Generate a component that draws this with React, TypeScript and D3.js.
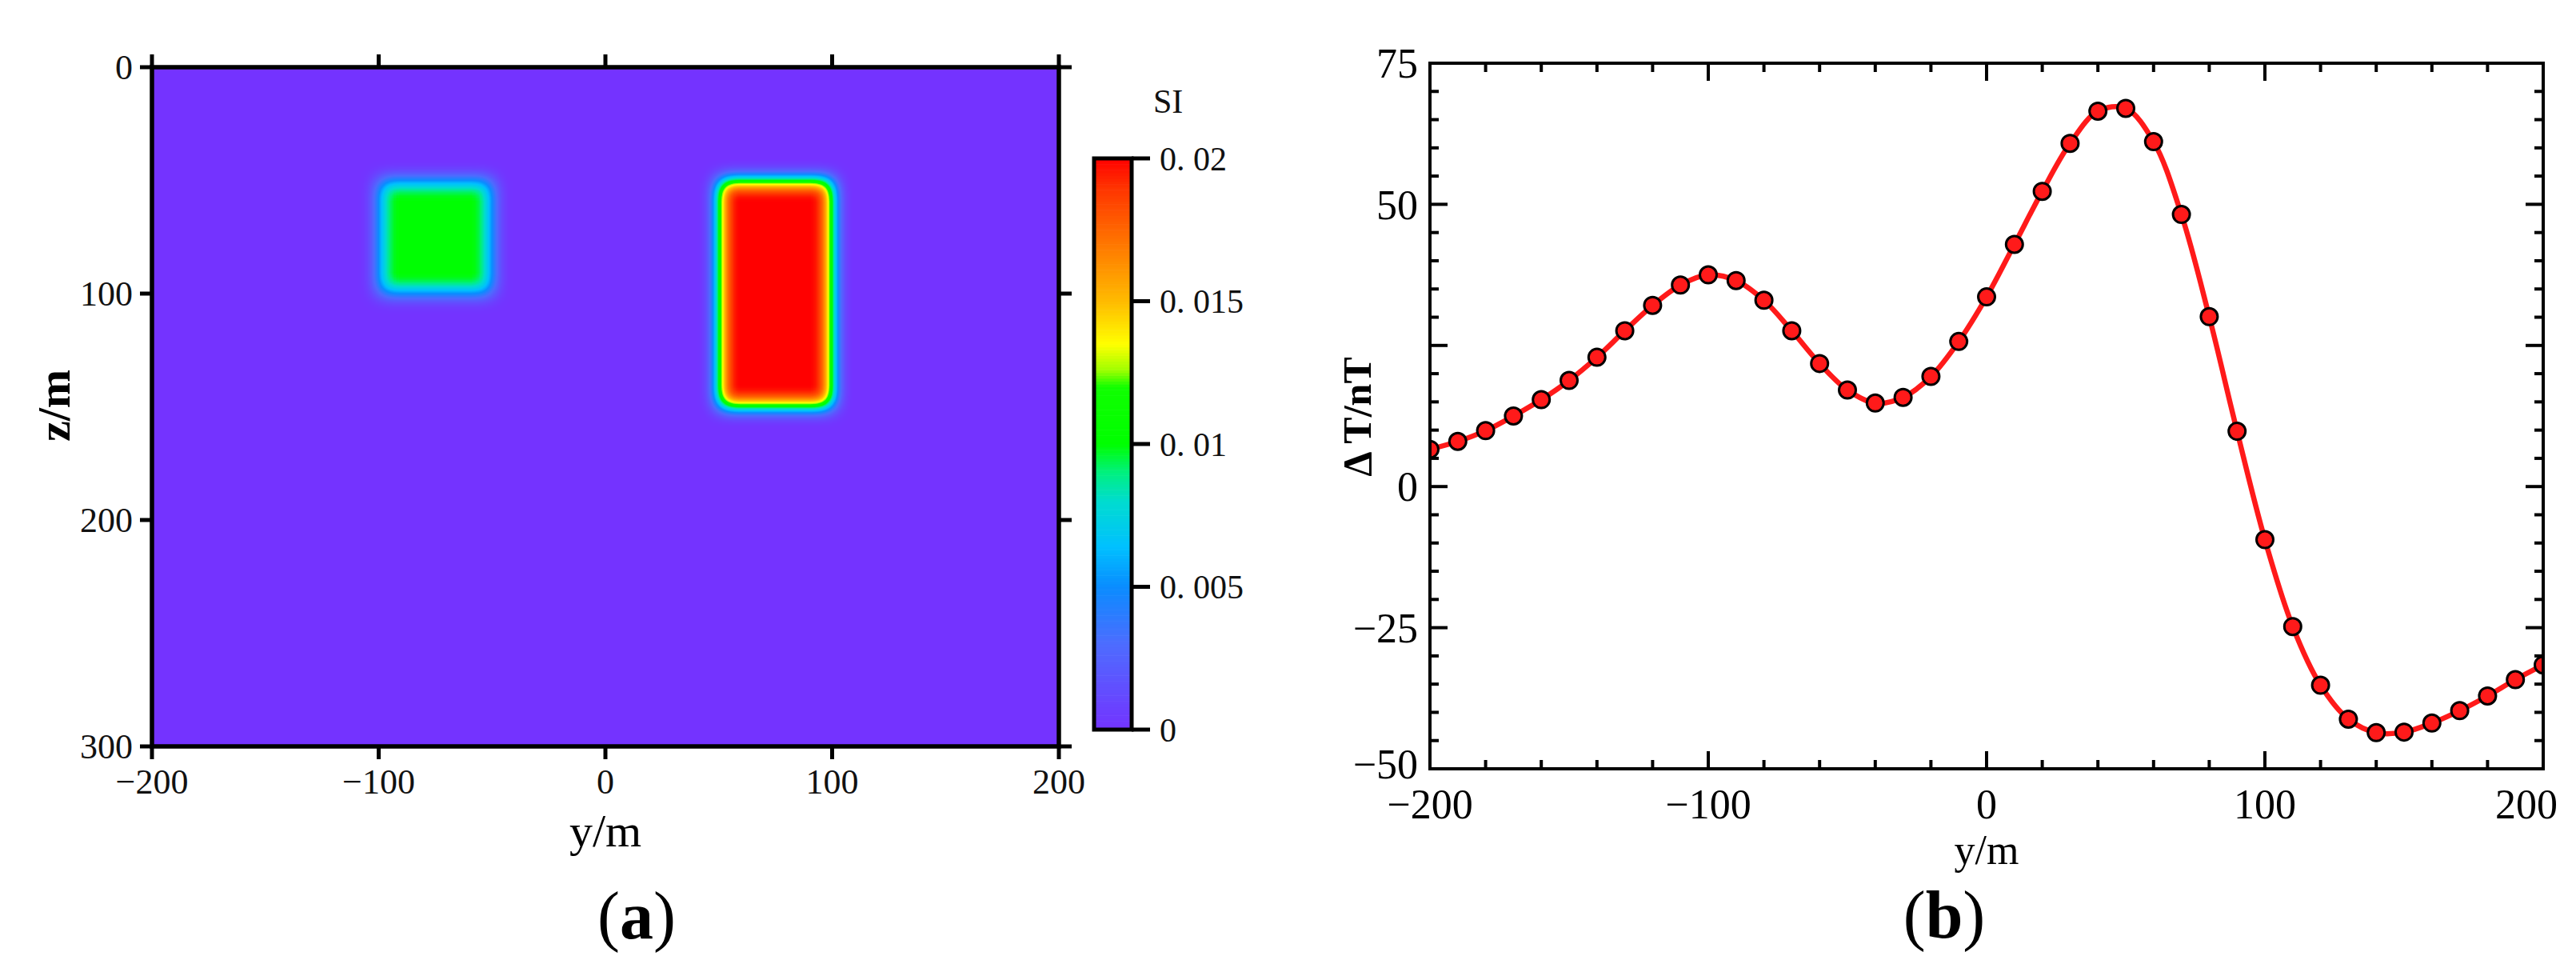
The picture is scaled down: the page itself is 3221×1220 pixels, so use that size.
import React from 'react';
import * as d3 from 'd3';

const W = 3221;
const H = 1220;
const FONT = "'Liberation Serif', 'Times New Roman', serif";

// ---------- Panel (a): susceptibility model ----------
const bodyY0 = [-100, 50];
const bodyY1 = [-50, 100];
const bodyZ0 = [50, 50];
const bodyZ1 = [100, 150];
const bodySI = [0.01, 0.02];
const aXTicks = [-200, -100, 0, 100, 200];
const aZTicks = [0, 100, 200, 300];
const cbTicks = [0, 0.005, 0.01, 0.015, 0.02];
const cbLabels = ['0', '0. 005', '0. 01', '0. 015', '0. 02'];

// colour map (fraction of max SI -> colour)
const cmapStops = [0, 0.15, 0.25, 0.32, 0.4, 0.45, 0.5, 0.6, 0.63, 0.675, 0.75, 0.85, 0.95, 1];
const cmapColors = ['#7433ff', '#4d6cff', '#0a8cff', '#00c0ff', '#00dcd0', '#00f080', '#00ff00', '#10ff00', '#a0ff00', '#ffff00', '#ffbb00', '#ff7700', '#ff3300', '#ff0000'];

// ---------- Panel (b): magnetic anomaly profile ----------
const profileY = [-200, -190, -180, -170, -160, -150, -140, -130, -120, -110, -100, -90, -80, -70, -60, -50, -40, -30, -20, -10, 0, 10, 20, 30, 40, 50, 60, 70, 80, 90, 100, 110, 120, 130, 140, 150, 160, 170, 180, 190, 200];
const deltaT = [6.6, 8.0, 9.9, 12.5, 15.4, 18.8, 22.9, 27.6, 32.1, 35.7, 37.5, 36.5, 33.0, 27.6, 21.8, 17.1, 14.8, 15.8, 19.5, 25.7, 33.6, 42.9, 52.3, 60.8, 66.5, 67.0, 61.1, 48.2, 30.1, 9.8, -9.4, -24.8, -35.2, -41.2, -43.6, -43.5, -41.9, -39.7, -37.1, -34.2, -31.6];
const bXMajor = [-200, -100, 0, 100, 200];
const bYMajor = [-50, -25, 0, 25, 50, 75];
const bYLabels = [75, 50, 0, -25, -50];

const fmt = (v: number) => (v < 0 ? '\u2212' + Math.abs(v) : String(v));

export default function App() {
  // scales panel a
  const xA = d3.scaleLinear().domain([-200, 200]).range([190, 1324]);
  const zA = d3.scaleLinear().domain([0, 300]).range([84, 933]);
  const cbY = d3.scaleLinear().domain([0, 0.02]).range([912, 198]);
  const color = d3
    .scaleLinear<string>()
    .domain(cmapStops.map((s) => s * 0.02))
    .range(cmapColors)
    .interpolate(d3.interpolateRgb)
    .clamp(true);

  const N = 128;
  const tr: number[] = [], tg: number[] = [], tb: number[] = [];
  for (let i = 0; i < N; i++) {
    const c = d3.rgb(color((i / (N - 1)) * 0.02));
    tr.push(c.r / 255);
    tg.push(c.g / 255);
    tb.push(c.b / 255);
  }
  const gray = d3.scaleLinear().domain([0, 0.02]).range([0, 255]);

  const [ax0, ax1] = xA.range();
  const [az0, az1] = zA.range();

  const bands = d3.range(0, 200).map((i) => {
    const v0 = (i / 200) * 0.02;
    const v1 = ((i + 1) / 200) * 0.02;
    return { v: (v0 + v1) / 2, y: cbY(v1), h: cbY(v0) - cbY(v1) + 0.6 };
  });

  // scales panel b
  const xB = d3.scaleLinear().domain([-200, 200]).range([1788, 3180]);
  const yB = d3.scaleLinear().domain([-50, 75]).range([961, 79]);
  const [bx0, bx1] = xB.range();
  const [by0, by1] = yB.range(); // by0 bottom, by1 top
  const pts: [number, number][] = profileY.map((y, i) => [y, deltaT[i]]);
  const line = d3
    .line<[number, number]>()
    .x((d) => xB(d[0]))
    .y((d) => yB(d[1]))
    .curve(d3.curveCatmullRom.alpha(0.5));
  const bXMinor = d3.range(-200, 201, 20).filter((v) => !bXMajor.includes(v));
  const bYMinor = d3.range(-50, 76, 5).filter((v) => !bYMajor.includes(v));

  return (
    <svg width={W} height={H} style={{ position: 'absolute', left: 0, top: 0, background: '#fff' }} fontFamily={FONT}>
      <defs>
        <clipPath id="clipA">
          <rect x={ax0} y={az0} width={ax1 - ax0} height={az1 - az0} />
        </clipPath>
        <clipPath id="clipB">
          <rect x={bx0} y={by1} width={bx1 - bx0} height={by0 - by1} />
        </clipPath>
        <filter
          id="cmap"
          filterUnits="userSpaceOnUse"
          x={ax0 - 60}
          y={az0 - 60}
          width={ax1 - ax0 + 120}
          height={az1 - az0 + 120}
          colorInterpolationFilters="sRGB"
        >
          <feGaussianBlur stdDeviation="11" />
          <feComponentTransfer>
            <feFuncR type="table" tableValues={tr.join(' ')} />
            <feFuncG type="table" tableValues={tg.join(' ')} />
            <feFuncB type="table" tableValues={tb.join(' ')} />
          </feComponentTransfer>
        </filter>
      </defs>

      {/* ===== Panel (a) ===== */}
      <g clipPath="url(#clipA)">
        <g filter="url(#cmap)">
          <rect x={ax0 - 50} y={az0 - 50} width={ax1 - ax0 + 100} height={az1 - az0 + 100} fill="#000" />
          {bodySI.map((k, i) => {
            const g = Math.round(gray(k));
            return (
              <rect
                key={i}
                x={xA(bodyY0[i])}
                y={zA(bodyZ0[i])}
                width={xA(bodyY1[i]) - xA(bodyY0[i])}
                height={zA(bodyZ1[i]) - zA(bodyZ0[i])}
                fill={`rgb(${g},${g},${g})`}
              />
            );
          })}
        </g>
      </g>
      <rect x={ax0} y={az0} width={ax1 - ax0} height={az1 - az0} fill="none" stroke="#000" strokeWidth={5.5} />
      {aXTicks.map((v) => (
        <g key={'ax' + v} stroke="#000" strokeWidth={5}>
          <line x1={xA(v)} x2={xA(v)} y1={az0} y2={az0 - 16} />
          <line x1={xA(v)} x2={xA(v)} y1={az1} y2={az1 + 16} />
        </g>
      ))}
      {aZTicks.map((v) => (
        <g key={'az' + v} stroke="#000" strokeWidth={5}>
          <line x1={ax0} x2={ax0 - 15} y1={zA(v)} y2={zA(v)} />
          <line x1={ax1} x2={ax1 + 16} y1={zA(v)} y2={zA(v)} />
        </g>
      ))}
      {aXTicks.map((v) => (
        <text key={'axl' + v} x={xA(v)} y={992} fontSize={44} textAnchor="middle" fill="#111">
          {fmt(v)}
        </text>
      ))}
      {aZTicks.map((v) => (
        <text key={'azl' + v} x={166} y={zA(v)} dy="0.35em" fontSize={44} textAnchor="end" fill="#111">
          {fmt(v)}
        </text>
      ))}
      <text x={757} y={1058} fontSize={58} textAnchor="middle">y/m</text>
      <text transform="translate(67,507) rotate(-90)" dy="0.35em" fontSize={58} fontWeight="bold" textAnchor="middle">
        z/m
      </text>
      <text x={796} y={1173} fontSize={84} textAnchor="middle">
        (<tspan fontWeight="bold">a</tspan>)
      </text>

      {/* colour bar */}
      {bands.map((b, i) => (
        <rect key={'cb' + i} x={1368} y={b.y} width={47} height={b.h} fill={color(b.v)} />
      ))}
      <rect x={1368} y={cbY(0.02)} width={47} height={cbY(0) - cbY(0.02)} fill="none" stroke="#000" strokeWidth={5} />
      {cbTicks.map((v, i) => (
        <g key={'cbt' + v}>
          <line x1={1415} x2={1438} y1={cbY(v)} y2={cbY(v)} stroke="#000" strokeWidth={5} />
          <text x={1450} y={cbY(v)} dy="0.35em" fontSize={42} fill="#111">
            {cbLabels[i]}
          </text>
        </g>
      ))}
      <text x={1442} y={141} fontSize={42} fill="#111">SI</text>

      {/* ===== Panel (b) ===== */}
      <g clipPath="url(#clipB)">
        <path d={line(pts) || ''} fill="none" stroke="#ff1a1a" strokeWidth={6.5} />
        {pts.map((d, i) => (
          <circle key={'m' + i} cx={xB(d[0])} cy={yB(d[1])} r={10.5} fill="#ff1a1a" stroke="#000" strokeWidth={3} />
        ))}
      </g>
      <rect x={bx0} y={by1} width={bx1 - bx0} height={by0 - by1} fill="none" stroke="#000" strokeWidth={4} />
      <g stroke="#000" strokeWidth={4}>
        {bXMajor.map((v) => (
          <g key={'bxM' + v}>
            <line x1={xB(v)} x2={xB(v)} y1={by0} y2={by0 - 22} />
            <line x1={xB(v)} x2={xB(v)} y1={by1} y2={by1 + 22} />
          </g>
        ))}
        {bXMinor.map((v) => (
          <g key={'bxm' + v}>
            <line x1={xB(v)} x2={xB(v)} y1={by0} y2={by0 - 11} />
            <line x1={xB(v)} x2={xB(v)} y1={by1} y2={by1 + 11} />
          </g>
        ))}
        {bYMajor.map((v) => (
          <g key={'byM' + v}>
            <line x1={bx0} x2={bx0 + 22} y1={yB(v)} y2={yB(v)} />
            <line x1={bx1} x2={bx1 - 22} y1={yB(v)} y2={yB(v)} />
          </g>
        ))}
        {bYMinor.map((v) => (
          <g key={'bym' + v}>
            <line x1={bx0} x2={bx0 + 11} y1={yB(v)} y2={yB(v)} />
            <line x1={bx1} x2={bx1 - 11} y1={yB(v)} y2={yB(v)} />
          </g>
        ))}
      </g>
      {bXMajor.map((v, i) => (
        <text
          key={'bxl' + v}
          x={i === bXMajor.length - 1 ? 3198 : xB(v)}
          y={1023}
          fontSize={52}
          textAnchor={i === bXMajor.length - 1 ? 'end' : 'middle'}
        >
          {fmt(v)}
        </text>
      ))}
      {bYLabels.map((v) => (
        <text key={'byl' + v} x={1773} y={yB(v) - (v === -50 ? 6 : 0)} dy="0.35em" fontSize={52} textAnchor="end">
          {fmt(v)}
        </text>
      ))}
      <text x={2484} y={1080} fontSize={52} textAnchor="middle">y/m</text>
      <text transform="translate(1696,521) rotate(-90)" dy="0.35em" fontSize={50} fontWeight="bold" textAnchor="middle">
        Δ T/nT
      </text>
      <text x={2431} y={1172} fontSize={84} textAnchor="middle">
        (<tspan fontWeight="bold">b</tspan>)
      </text>
    </svg>
  );
}
